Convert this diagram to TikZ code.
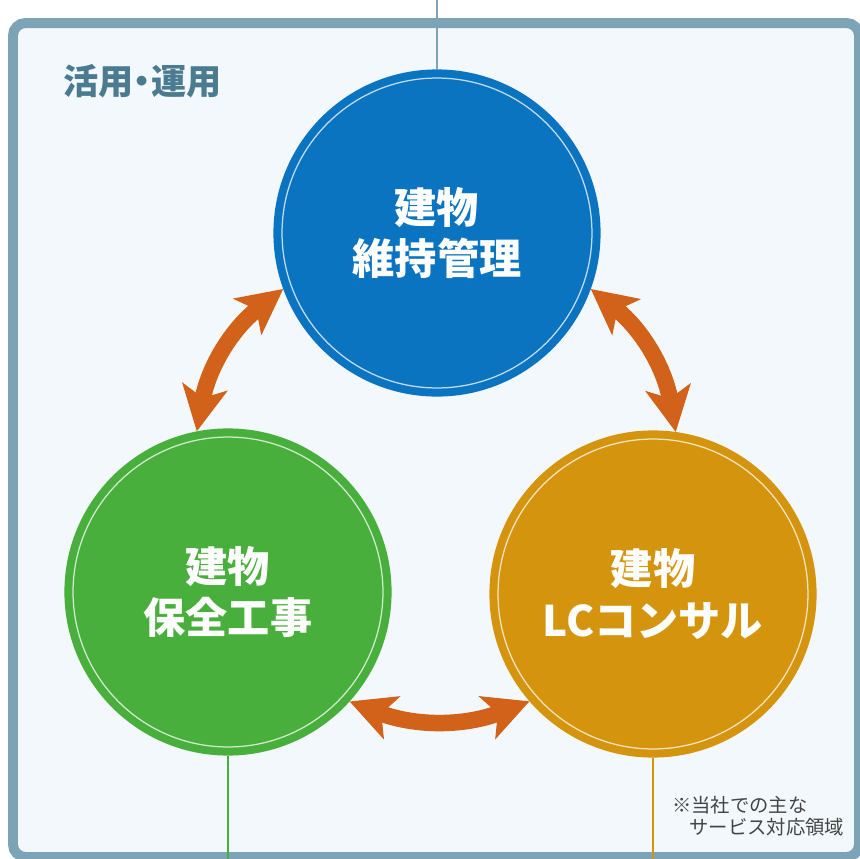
\documentclass[tikz,border=0pt]{standalone}
\usepackage{fontspec}
\usetikzlibrary{arrows.meta}
\newfontfamily\jp{Noto Sans CJK JP}
\definecolor{bgcol}{HTML}{F3F8FC}
\definecolor{framecol}{HTML}{7DA3B7}
\definecolor{bluecol}{HTML}{0B74C1}
\definecolor{greencol}{HTML}{48AE3C}
\definecolor{orangecol}{HTML}{D5940D}
\definecolor{arrowcol}{HTML}{D2611A}
\definecolor{titlecol}{HTML}{4B7B90}
\definecolor{notecol}{HTML}{444444}
\tikzset{
  bubble/.style={circle, inner sep=0pt, minimum size=6.2cm, draw=#1, fill=#1,
    double=white!75!#1, double distance=0.25mm, line width=1.6mm, outer sep=1.72mm,
    text=white, align=center, font=\jp\bfseries\fontsize{24pt}{29.5pt}\selectfont},
  swap/.style={draw=arrowcol, line width=3.3mm,
    {Stealth[length=9mm,width=9mm,inset=2.2mm]}-{Stealth[length=9mm,width=9mm,inset=2.2mm]}},
  lead/.style={draw=#1, line width=0.3mm}
}

\begin{document}
\begin{tikzpicture}[x=0.02cm, y=-0.02cm]
        \useasboundingbox (0,0) rectangle (860,859);
        \draw[draw=framecol, fill=bgcol, line width=2mm, rounded corners=2.5mm] (13,23) rectangle (859,857);

        \node[anchor=west, text=titlecol, font=\jp\bfseries\fontsize{20pt}{22pt}\selectfont] (title) at (57,81) {活用\kern-.25em・\kern-.25em運用};

        % three service circles
        \node[bubble=bluecol] (iji) at (437,233) {建物\\維持管理};
        \node[bubble=greencol] (hozen) at (228,592) {建物\\保全工事};
        \node[bubble=orangecol] (lc) at (653,594) {建物\\LCコンサル};

        \coordinate (topend) at (437,0);
        \coordinate (greenend) at (228,859);
        \coordinate (orangeend) at (653,859);
        \draw[lead=framecol] (topend) -- (iji.north);
        \draw[lead=greencol] (hozen.south) -- (greenend);
        \draw[lead=orangecol] (lc.south) -- (orangeend);

        \draw[swap] (hozen.101) to[bend left=21] (iji.200);
        \draw[swap] (iji.340) to[bend left=21] (lc.82);
        \draw[swap] (lc.221) to[bend left=21] (hozen.318);

        \node[anchor=north west, align=left, text=notecol, font=\jp\fontsize{11pt}{12.5pt}\selectfont] (note) at (666,790) {※当社での主な\\\hspace*{0.9em}サービス対応領域};
    \end{tikzpicture}
\end{document}
